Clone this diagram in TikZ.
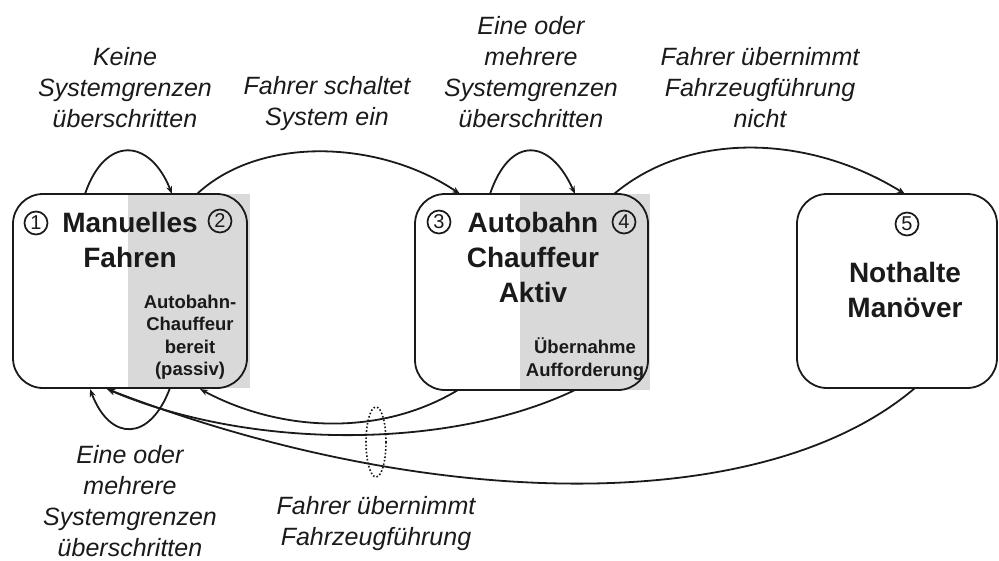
\documentclass[tikz,border=0pt]{standalone}
\usepackage{fontspec}
\setmainfont{Liberation Sans}
\usetikzlibrary{arrows.meta}
\definecolor{panelgrey}{HTML}{D9D9D9}
\definecolor{ink}{HTML}{1A1A1A}
\tikzset{
  statebox/.style={draw=ink, line width=1.8pt, rounded corners=30pt},
  greypanel/.style={fill=panelgrey, draw=none},
  flow/.style={draw=ink, line width=1.8pt, -{Stealth[length=8pt,width=6pt]}},
  lbl/.style={align=center, text=ink, font=\fontsize{25}{31}\selectfont\itshape, inner sep=0pt},
  title/.style={text=ink, font=\fontsize{28}{35}\selectfont\bfseries, inner sep=0pt},
  small/.style={align=center, text=ink, font=\fontsize{18.5}{22.5}\selectfont\bfseries, inner sep=0pt},
  num/.style={circle, draw=ink, line width=1.7pt, text=ink, minimum size=23pt,
              inner sep=0pt, font=\fontsize{20}{20}\selectfont},
}
\begin{document}
\begin{tikzpicture}[x=1pt,y=-1pt]
\useasboundingbox (0,0) rectangle (999,560);

% grey sub-state panels
\fill[panelgrey] (128,194) rectangle (250,388);
\fill[panelgrey] (520,194) rectangle (650,390);

% state boxes
\draw[statebox] (13,194) rectangle (247,388);
\draw[statebox] (415,194) rectangle (648,390);
\draw[statebox] (797,194) rectangle (997,388);

% anchor points on the box borders
\coordinate (s1a) at (85,194);   \coordinate (s1b) at (172,194);
\coordinate (s1c) at (197,194);  \coordinate (s2a) at (460,194);
\coordinate (s2b) at (490,194);  \coordinate (s2c) at (575,194);
\coordinate (s2d) at (614,194);  \coordinate (s3a) at (905,194);
\coordinate (b1a) at (170,388);  \coordinate (b1b) at (90,389);
\coordinate (b1c) at (200,389);  \coordinate (b1d) at (107,389);
\coordinate (b2a) at (458,390);  \coordinate (b2b) at (575,390);
\coordinate (b3a) at (915,388);

% texts in the boxes
\node[num] (n1) at (36,223) {1};
\node[title] (t1a) at (130,222) {Manuelles};
\node[num] (n2) at (220,221) {2};
\node[title] (t1b) at (130,257) {Fahren};
\node[small] (p1) at (190,337) {Autobahn-\\Chauffeur\\bereit\\(passiv)};

\node[num] (n3) at (439,222) {3};
\node[title, align=center] (t2) at (533,257) {Autobahn\\Chauffeur\\Aktiv};
\node[num] (n4) at (624,222) {4};
\node[small] (p2) at (585,359) {Übernahme\\Aufforderung};

\node[num] (n5) at (907,224) {5};
\node[title, align=center] (t3) at (905,290) {Nothalte\\Manöver};

% transitions above the boxes
\draw[flow] (s1a) .. controls (105,135) and (150,138) .. (s1b);
\draw[flow] (s1c) .. controls (260,135) and (380,140) .. (s2a);
\draw[flow] (s2b) .. controls (510,135) and (550,138) .. (s2c);
\draw[flow] (s2d) .. controls (690,130) and (810,135) .. (s3a);

% transitions below the boxes
\draw[flow] (b1a) .. controls (150,442) and (110,442) .. (b1b);
\draw[flow] (b2a) .. controls (380,437) and (280,432) .. (b1c);
\draw[flow] (b2b) .. controls (450,450) and (250,450) .. (b1d);
\draw[flow] (b3a) .. controls (760,520) and (420,510) .. (b1d);

% grouping of the take-over transitions
\draw[ink, line width=1.6pt, dotted] (376,442) ellipse [x radius=10, y radius=35];

% transition labels
\node[lbl] (l1) at (125,88) {Keine\\Systemgrenzen\\überschritten};
\node[lbl] (l2) at (327,103.5) {Fahrer schaltet\\System ein};
\node[lbl] (l3) at (531,72.5) {Eine oder\\mehrere\\Systemgrenzen\\überschritten};
\node[lbl] (l4) at (760,88) {Fahrer übernimmt\\Fahrzeugführung\\nicht};
\node[lbl] (l5) at (130,501) {Eine oder\\mehrere\\Systemgrenzen\\überschritten};
\node[lbl] (l6) at (376,524) {Fahrer übernimmt\\Fahrzeugführung};
\end{tikzpicture}
\end{document}
